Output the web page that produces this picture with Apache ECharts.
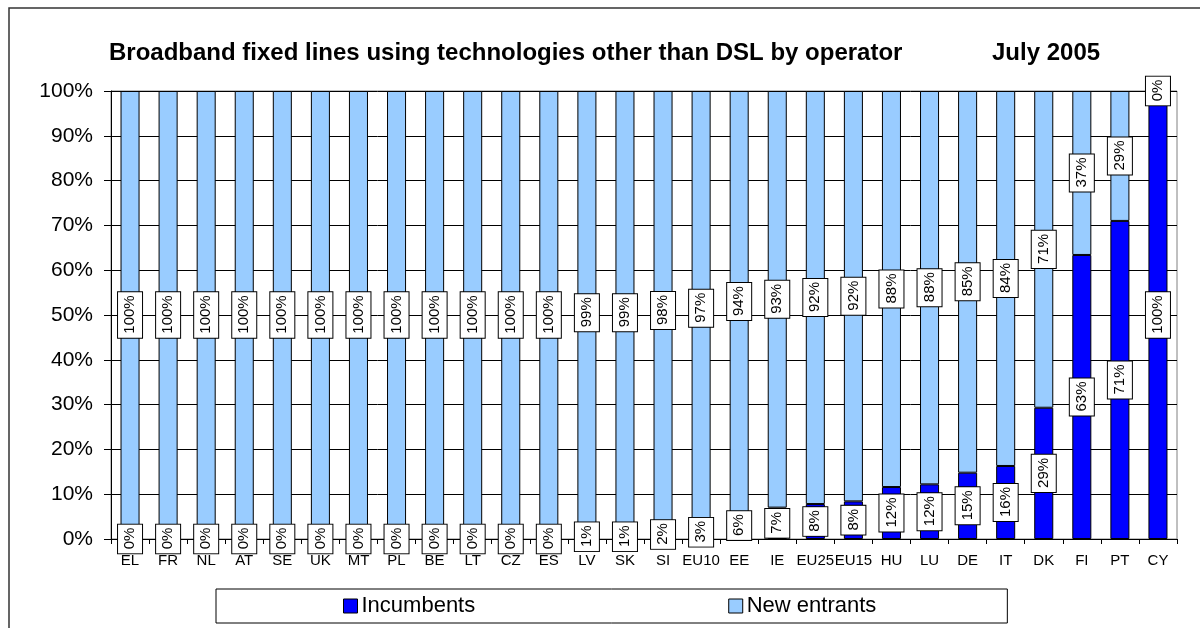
<!DOCTYPE html>
<html>
<head>
<meta charset="utf-8">
<script src="https://cdn.jsdelivr.net/npm/echarts@6/dist/echarts.min.js"></script>
<style>html,body{margin:0;padding:0;background:#fff}#c{width:1200px;height:628px}</style>
</head>
<body>
<div id="c"></div>
<script>
const categories = ['EL','FR','NL','AT','SE','UK','MT','PL','BE','LT','CZ','ES','LV','SK','SI','EU10','EE','IE','EU25','EU15','HU','LU','DE','IT','DK','FI','PT','CY'];
const incumbents = [0,0,0,0,0,0,0,0,0,0,0,0,1,1,2,3,6,7,7.8,8.4,11.6,12.2,14.8,16.3,29.3,63.4,71,100];
const newEntrants = [100,100,100,100,100,100,100,100,100,100,100,100,99,99,98,97,94,93,92.2,91.6,88.4,87.8,85.2,83.7,70.7,36.6,29,0];
const yTicks = {min:0, max:100, interval:10};
const titleMain = 'Broadband fixed lines using technologies other than DSL by operator';
const titleDate = 'July 2005';

const font = 'Liberation Sans, Arial, sans-serif';
const labelCfg = {
  show: true,
  position: 'inside',
  rotate: 90,
  formatter: p => Math.round(p.value) + '%',
  color: '#000',
  fontFamily: font,
  fontSize: 15,
  backgroundColor: '#fff',
  borderColor: '#000',
  borderWidth: 1,
  padding: [5, 3, 4, 4]
};

const chart = echarts.init(document.getElementById('c'), null, {renderer: 'canvas'});
chart.setOption({
  animation: false,
  backgroundColor: '#fff',
  title: [
    {text: titleMain, left: 104, top: 36, textStyle: {fontFamily: font, fontSize: 24, fontWeight: 'bold', color: '#000'}},
    {text: titleDate, left: 987, top: 36, textStyle: {fontFamily: font, fontSize: 24, fontWeight: 'bold', color: '#000'}}
  ],
  graphic: [{
    type: 'rect', shape: {x: 9, y: 8, width: 1250, height: 700},
    style: {fill: null, stroke: '#333', lineWidth: 1.5}, silent: true, z: 100
  }],
  legend: {
    left: 216, top: 589,
    padding: [6, 131, 6, 127],
    itemGap: 253,
    itemWidth: 14, itemHeight: 14,
    icon: 'rect',
    borderColor: '#000', borderWidth: 1, backgroundColor: '#fff',
    textStyle: {fontFamily: font, fontSize: 22, color: '#000', padding: [0,0,0,-1]},
    itemStyle: {borderColor: '#000', borderWidth: 1},
    data: ['Incumbents', 'New entrants']
  },
  grid: {left: 111, right: 23, top: 91, bottom: 89, show: true, borderColor: '#808080', borderWidth: 1},
  xAxis: {
    type: 'category', data: categories,
    axisLine: {lineStyle: {color: '#000', width: 1}},
    axisTick: {show: true, length: 5, lineStyle: {color: '#000'}},
    axisLabel: {interval: 0, fontFamily: font, fontSize: 15, color: '#000', margin: 14}
  },
  yAxis: {
    type: 'value', min: yTicks.min, max: yTicks.max, interval: yTicks.interval,
    axisLine: {show: true, lineStyle: {color: '#000', width: 1}},
    axisTick: {show: true, length: 7, lineStyle: {color: '#000'}},
    axisLabel: {formatter: '{value}%', fontFamily: font, fontSize: 21, color: '#000', margin: 18},
    splitLine: {lineStyle: {color: '#000', width: 1}}
  },
  series: [
    {name: 'Incumbents', type: 'bar', stack: 's', data: incumbents, barWidth: '50%',
     itemStyle: {color: '#0000FF', borderColor: '#000', borderWidth: 1}, label: labelCfg},
    {name: 'New entrants', type: 'bar', stack: 's', data: newEntrants, barWidth: '50%',
     itemStyle: {color: '#99CCFF', borderColor: '#000', borderWidth: 1}, label: labelCfg}
  ]
});
</script>
</body>
</html>
